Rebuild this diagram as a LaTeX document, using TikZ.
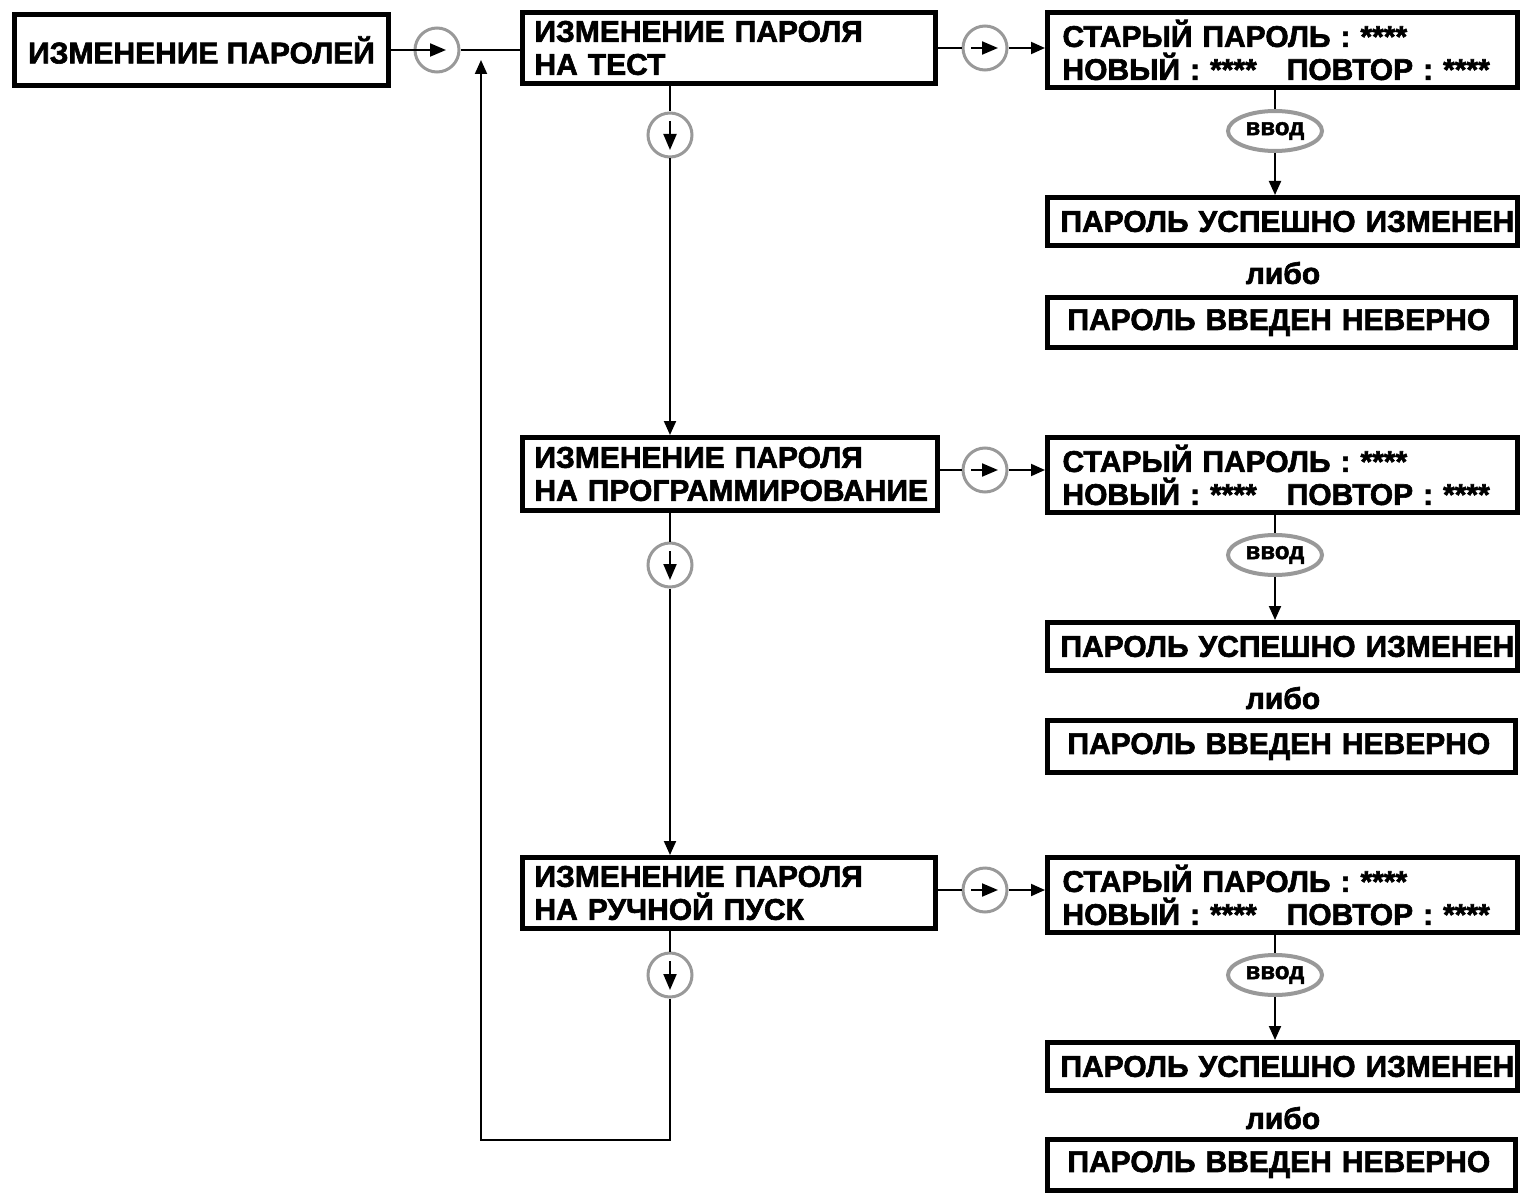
\documentclass[tikz,border=0pt]{standalone}
\usepackage{fontspec}
\setmainfont{Liberation Sans}[BoldFeatures={FakeBold=2}]
\usetikzlibrary{arrows.meta,shapes.geometric}

\begin{document}
\begin{tikzpicture}[x=1pt,y=-1pt,
  box/.style={draw,line width=5pt,inner sep=0pt,font=\bfseries\fontsize{30}{33}\selectfont},
  lbox/.style={box,align=left},
  knob/.style={circle,draw=black!40,line width=3pt,minimum size=44pt,inner sep=0pt},
  enter/.style={ellipse,draw=black!40,line width=4pt,minimum width=94pt,minimum height=40pt,inner sep=0pt,font=\bfseries\fontsize{24}{24}\selectfont},
  either/.style={font=\bfseries\fontsize{30}{30}\selectfont},
  conn/.style={line width=2pt},
  arr/.style={conn,-{Triangle[length=14pt,width=12pt]}},
  karr/.style={conn,-{Triangle[length=16pt,width=13pt]}}]

\useasboundingbox (0,0) rectangle (1521,1193);

% left column
\node [box,minimum width=374pt,minimum height=71pt] (pass) at (201.5,50) {ИЗМЕНЕНИЕ ПАРОЛЕЙ};
\node [lbox,inner xsep=12pt,text width=389pt,minimum height=71pt] (test) at (729,48) {ИЗМЕНЕНИЕ ПАРОЛЯ\\НА~ТЕСТ};
\node [lbox,inner xsep=12pt,text width=391pt,minimum height=73pt] (prog) at (730,474) {ИЗМЕНЕНИЕ ПАРОЛЯ\\НА~ПРОГРАММИРОВАНИЕ};
\node [lbox,inner xsep=12pt,text width=389pt,minimum height=71pt] (manual) at (729,893) {ИЗМЕНЕНИЕ ПАРОЛЯ\\НА~РУЧНОЙ~ПУСК};

\node [knob] (k0) at (437,50) {};
\node [knob] (d1) at (670,135) {};
\node [knob] (d2) at (670,565) {};
\node [knob] (d3) at (670,975) {};

\coordinate (back) at (481,1140);
\coordinate (join) at (481,60);

\draw [karr](pass.east)--([xshift=9pt]k0.center);
\draw [conn](k0.east)--(k0.east -| test.west);

\draw [conn](d1.north |- test.south)--(d1.north);
\draw [karr]([yshift=14pt]d1.center)--([yshift=-15pt]d1.center);
\draw [arr](d1.south)--(d1.south |- prog.north);

\draw [conn](d2.north |- prog.south)--(d2.north);
\draw [karr]([yshift=14pt]d2.center)--([yshift=-15pt]d2.center);
\draw [arr](d2.south)--(d2.south |- manual.north);

\draw [conn](d3.north |- manual.south)--(d3.north);
\draw [karr]([yshift=14pt]d3.center)--([yshift=-15pt]d3.center);
\draw [arr](d3.south) |- (back)--(join);

% right column, test
\node [knob] (r1) at (985,48) {};
\node [lbox,inner xsep=15pt,text width=440pt,minimum height=75pt] (ask1) at (1282.5,50) {СТАРЫЙ ПАРОЛЬ : ****\\НОВЫЙ : ****\hspace{30pt}ПОВТОР : ****};
\node [enter] (ent1) at (1275,131) {ввод};
\node [lbox,inner xsep=13pt,text width=444pt,minimum height=48pt] (ok1) at (1282.5,221.5) {ПАРОЛЬ~УСПЕШНО~ИЗМЕНЕН};
\node [either] (or1) at (1283,273) {либо};
\node [lbox,inner xsep=20pt,text width=428pt,minimum height=50pt] (bad1) at (1281.5,322.5) {ПАРОЛЬ ВВЕДЕН НЕВЕРНО};

\draw [conn](test.east |- r1)--(r1.west);
\draw [karr]([xshift=-14pt]r1.center)--([xshift=13pt]r1.center);
\draw [arr](r1.east)--(r1.east -| ask1.west);
\draw [conn](ent1.north |- ask1.south)--(ent1.north);
\draw [arr](ent1.south)--(ent1.south |- ok1.north);

% right column, programming
\node [knob] (r2) at (985,470) {};
\node [lbox,inner xsep=15pt,text width=440pt,minimum height=75pt] (ask2) at (1282.5,475) {СТАРЫЙ ПАРОЛЬ : ****\\НОВЫЙ : ****\hspace{30pt}ПОВТОР : ****};
\node [enter] (ent2) at (1275,555) {ввод};
\node [lbox,inner xsep=13pt,text width=444pt,minimum height=48pt] (ok2) at (1282.5,646.5) {ПАРОЛЬ~УСПЕШНО~ИЗМЕНЕН};
\node [either] (or2) at (1283,698) {либо};
\node [lbox,inner xsep=20pt,text width=428pt,minimum height=52pt] (bad2) at (1281.5,746.5) {ПАРОЛЬ ВВЕДЕН НЕВЕРНО};

\draw [conn](prog.east |- r2)--(r2.west);
\draw [karr]([xshift=-14pt]r2.center)--([xshift=13pt]r2.center);
\draw [arr](r2.east)--(r2.east -| ask2.west);
\draw [conn](ent2.north |- ask2.south)--(ent2.north);
\draw [arr](ent2.south)--(ent2.south |- ok2.north);

% right column, manual start
\node [knob] (r3) at (985,890) {};
\node [lbox,inner xsep=15pt,text width=440pt,minimum height=75pt] (ask3) at (1282.5,895) {СТАРЫЙ ПАРОЛЬ : ****\\НОВЫЙ : ****\hspace{30pt}ПОВТОР : ****};
\node [enter] (ent3) at (1275,975) {ввод};
\node [lbox,inner xsep=13pt,text width=444pt,minimum height=48pt] (ok3) at (1282.5,1066.5) {ПАРОЛЬ~УСПЕШНО~ИЗМЕНЕН};
\node [either] (or3) at (1283,1118) {либо};
\node [lbox,inner xsep=20pt,text width=428pt,minimum height=51pt] (bad3) at (1281.5,1164.5) {ПАРОЛЬ ВВЕДЕН НЕВЕРНО};

\draw [conn](manual.east |- r3)--(r3.west);
\draw [karr]([xshift=-14pt]r3.center)--([xshift=13pt]r3.center);
\draw [arr](r3.east)--(r3.east -| ask3.west);
\draw [conn](ent3.north |- ask3.south)--(ent3.north);
\draw [arr](ent3.south)--(ent3.south |- ok3.north);

\end{tikzpicture}
\end{document}
